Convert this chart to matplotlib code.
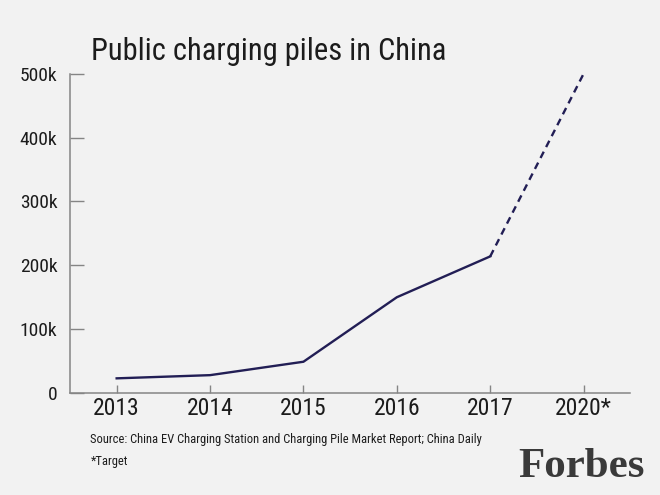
import matplotlib
matplotlib.use("Agg")
import matplotlib.pyplot as plt
from matplotlib import font_manager

# data
years = ["2013", "2014", "2015", "2016", "2017", "2020*"]
piles = [23000, 28000, 49000, 150000, 214000, 500000]
yticks = [0, 100000, 200000, 300000, 400000, 500000]
ytick_labels = ["0", "100k", "200k", "300k", "400k", "500k"]

bg = "#f2f2f2"
navy = "#221e55"
grey = "#858585"
ink = "#1c1c1c"


def narrow_font():
    # look for some condensed sans among the installed fonts
    wanted = ["Roboto Condensed", "Liberation Sans Narrow", "Noto Sans ExtraCondensed",
              "Noto Sans Condensed", "Open Sans Condensed", "DejaVu Sans Condensed"]
    fl = font_manager.fontManager.ttflist
    for w in wanted:
        for f in fl:
            if f.name == w and f.style == "normal" and f.weight in (400, "normal", "regular"):
                return f.fname, f.name
    for f in fl:
        if str(f.stretch) in ("condensed", "extra-condensed", "semi-condensed", "ultra-condensed") \
                and f.style == "normal" and f.weight in (400, "normal", "regular"):
            return f.fname, f.name
    return None, "DejaVu Sans"


fpath, fname = narrow_font()


def fp(size):
    if fpath:
        return font_manager.FontProperties(fname=fpath, size=size)
    return font_manager.FontProperties(family="DejaVu Sans", stretch="condensed", size=size)


fig = plt.figure(figsize=(6.6, 4.95), dpi=100, facecolor=bg)
ax = fig.add_axes([0.106, 0.206, 0.849, 0.645], facecolor=bg)

xs = list(range(len(years)))
# actual values solid, target dashed
ax.plot(xs[:5], piles[:5], color=navy, lw=1.7, solid_joinstyle="miter")
ax.plot(xs[4:], piles[4:], color=navy, lw=1.7, ls=(0, (3, 2.2)))

ax.set_xlim(-0.5, 5.5)
ax.set_ylim(0, 500000)
ax.set_xticks(xs)
ax.set_xticklabels(years, fontproperties=fp(17), color=ink)
ax.set_yticks(yticks)
ax.set_yticklabels(ytick_labels, fontproperties=fp(14), color=ink)

for s in ["top", "right"]:
    ax.spines[s].set_visible(False)
for s in ["left", "bottom"]:
    ax.spines[s].set_color(grey)
    ax.spines[s].set_linewidth(1.1)

ax.tick_params(axis="y", direction="in", length=10, width=1, color=grey, pad=9)
ax.tick_params(axis="x", direction="in", length=6, width=1, color=grey, pad=3)

fig.text(0.138, 0.879, "Public charging piles in China", fontproperties=fp(22),
         color=ink, va="baseline")
fig.text(0.137, 0.106, "Source: China EV Charging Station and Charging Pile Market Report; China Daily",
         fontproperties=fp(9), color=ink, va="baseline")
fig.text(0.137, 0.060, "*Target", fontproperties=fp(9), color=ink, va="baseline")
fig.text(0.977, 0.036, "Forbes", family=["Liberation Serif", "DejaVu Serif"],
         fontweight="bold", fontsize=31, color="#3a3a3a", ha="right", va="baseline")

fig.savefig("out.png", dpi=100, facecolor=bg)
